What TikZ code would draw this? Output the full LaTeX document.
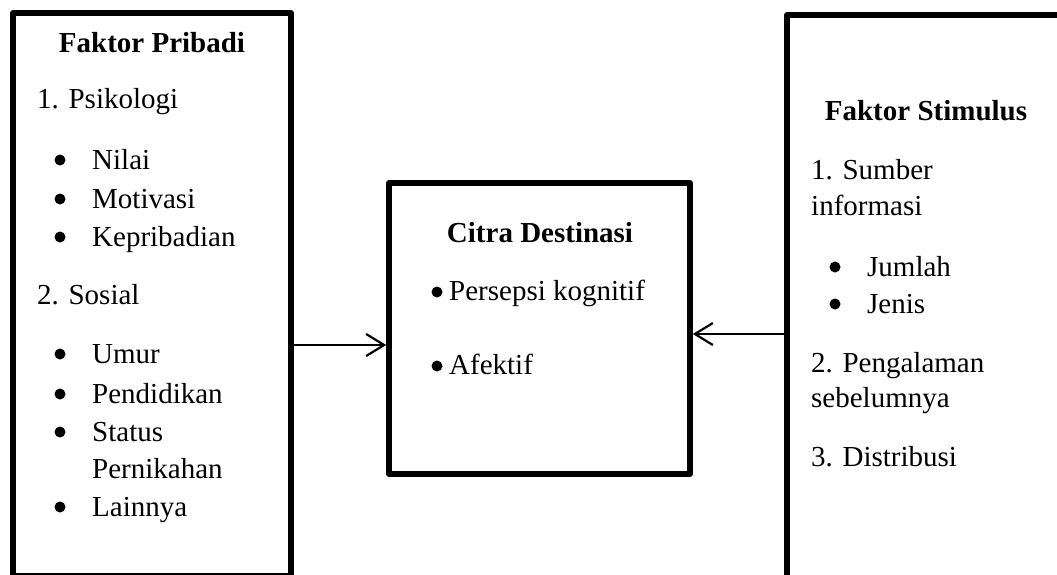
\documentclass[tikz,border=0pt]{standalone}
\usepackage{fontspec}
\setmainfont{Liberation Serif}
\usetikzlibrary{arrows.meta}
\begin{document}
\begin{tikzpicture}[x=1pt,y=-1pt,
  box/.style={draw, line width=5.5pt, inner sep=0pt, line join=round},
  txt/.style={anchor=base west, inner sep=0pt, font=\fontsize{29}{34}\selectfont},
  dot/.style={circle, fill, draw=none, minimum size=11pt, inner sep=0pt},
  ttl/.style={anchor=base, inner sep=0pt, font=\fontsize{29}{34}\selectfont\bfseries},
  arr/.style={line width=2.2pt, -{Straight Barb[length=18pt,width=22pt,line width=2.2pt]}}]
\useasboundingbox (0,0) rectangle (1057,574);
\clip (0,0) rectangle (1057,574);
% boxes
\node[box, minimum width=278pt, minimum height=563pt] (pribadi) at (152,294.5) {};
\node[box, minimum width=283pt, minimum height=565pt] (stimulus) at (928.5,297.5) {};
\node[box, minimum width=301pt, minimum height=291pt] (citra) at (539.5,328.5) {};
% left texts
\node[ttl] (tp) at (152,52) {Faktor Pribadi};
\node[txt] (p1) at (37,108) {1. Psikologi};
\node[dot] (b1) at (60,160) {};
\node[txt] (l1) at (92,169) {Nilai};
\node[dot] (b2) at (60,199) {};
\node[txt] (l2) at (92,208) {Motivasi};
\node[dot] (b3) at (60,237) {};
\node[txt] (l3) at (92,246) {Kepribadian};
\node[txt] (p2) at (37,304) {2. Sosial};
\node[dot] (b4) at (60,354) {};
\node[txt] (l4) at (92,363) {Umur};
\node[dot] (b5) at (60,394) {};
\node[txt] (l5) at (92,403) {Pendidikan};
\node[dot] (b6) at (60,432) {};
\node[txt] (l6) at (92,441) {Status};
\node[txt] (l6b) at (92,478) {Pernikahan};
\node[dot] (b7) at (60,507) {};
\node[txt] (l7) at (92,516) {Lainnya};
% middle texts
\node[ttl] (tc) at (540,242) {Citra Destinasi};
\node[dot] (c1b) at (437,292) {};
\node[txt] (c1) at (449,300) {Persepsi kognitif};
\node[dot] (c2b) at (437,366) {};
\node[txt] (c2) at (449,374) {Afektif};
% right texts
\node[ttl] (ts) at (926,120) {Faktor Stimulus};
\node[txt] (s1) at (811,179) {1. Sumber};
\node[txt] (s1b) at (811,215) {informasi};
\node[dot] (r1b) at (835,267) {};
\node[txt] (r1) at (867,276) {Jumlah};
\node[dot] (r2b) at (835,304) {};
\node[txt] (r2) at (867,313) {Jenis};
\node[txt] (s2) at (811,372) {2. Pengalaman};
\node[txt] (s2b) at (811,407) {sebelumnya};
\node[txt] (s3) at (811,466) {3. Distribusi};
% arrows
\draw[arr] (pribadi.east |- 0,345) -- (citra.west |- 0,345);
\draw[arr] (stimulus.west |- 0,334) -- (citra.east |- 0,334);
\end{tikzpicture}
\end{document}
